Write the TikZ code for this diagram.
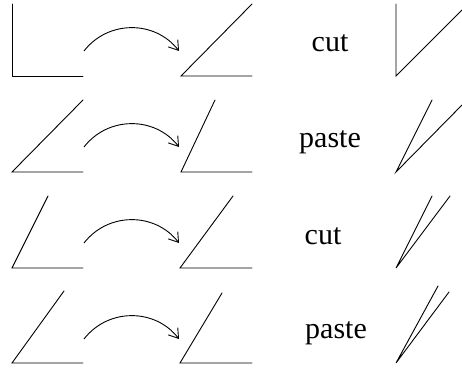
\documentclass[tikz,border=0pt]{standalone}
\usepackage{fontspec}
\setmainfont{Liberation Serif}
\usetikzlibrary{arrows.meta}
\begin{document}
\begin{tikzpicture}[x=1pt,y=-1pt, line width=0.9pt,
  seg/.style={draw=black, line cap=round, line join=miter},
  hop/.style={draw=black, -{Straight Barb[length=9pt,width=12pt]}},
  lbl/.style={anchor=base, font=\fontsize{30}{36}\selectfont, inner sep=0pt}]
\useasboundingbox (0,0) rectangle (462,369);
% row 1
\draw[seg] (12,4) -- (12,76) -- (83,76);
\draw[seg] (252,4) -- (181,76) -- (252,76);
\draw[seg] (396,4) -- (396,76) -- (462,10);
\coordinate (a1s) at (84,51); \coordinate (a1e) at (179,51);
\draw[hop] (a1s) .. controls +(24,-31) and +(-24,-31) .. (a1e);
\node[lbl] (t1) at (330,52) {cut};
% row 2
\draw[seg] (83,100) -- (12,172) -- (83,172);
\draw[seg] (215,100) -- (181,172) -- (252,172);
\draw[seg] (432,100) -- (396,172) -- (462,105);
\coordinate (a2s) at (84,147); \coordinate (a2e) at (179,147);
\draw[hop] (a2s) .. controls +(24,-31) and +(-24,-31) .. (a2e);
\node[lbl] (t2) at (330,147) {paste};
% row 3
\draw[seg] (48,196) -- (12,268) -- (83,268);
\draw[seg] (233,196) -- (180,268) -- (252,268);
\draw[seg] (432,196) -- (396,268) -- (450,196);
\coordinate (a3s) at (84,243); \coordinate (a3e) at (179,243);
\draw[hop] (a3s) .. controls +(24,-31) and +(-24,-31) .. (a3e);
\node[lbl] (t3) at (323,244) {cut};
% row 4
\draw[seg] (64,291) -- (12,363) -- (83,363);
\draw[seg] (222,293) -- (180,363) -- (252,363);
\draw[seg] (438,286) -- (396,363) -- (449,292);
\coordinate (a4s) at (84,339); \coordinate (a4e) at (179,339);
\draw[hop] (a4s) .. controls +(24,-31) and +(-24,-31) .. (a4e);
\node[lbl] (t4) at (336,338) {paste};
\end{tikzpicture}
\end{document}
